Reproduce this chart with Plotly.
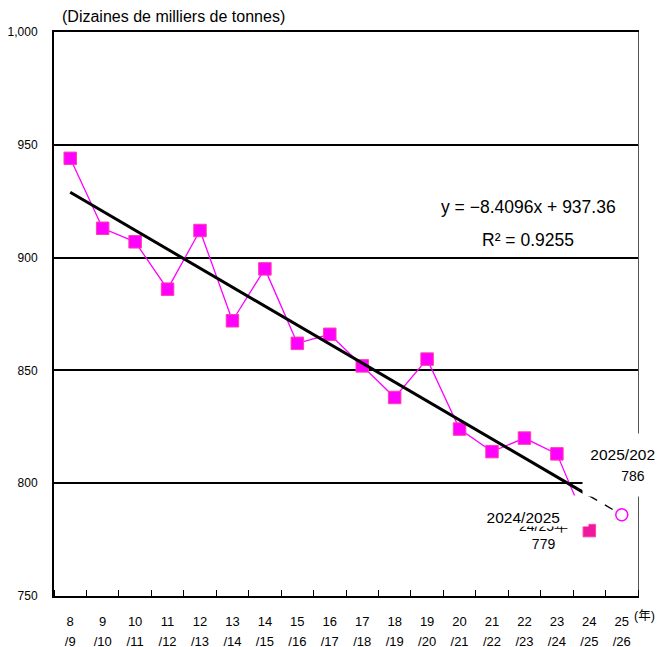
import plotly.graph_objects as go

# ---- data ----
cat_line1 = ["8", "9", "10", "11", "12", "13", "14", "15", "16", "17", "18", "19",
             "20", "21", "22", "23", "24", "25"]
cat_line2 = ["/9", "/10", "/11", "/12", "/13", "/14", "/15", "/16", "/17", "/18", "/19", "/20",
             "/21", "/22", "/23", "/24", "/25", "/26"]
values = [944, 913, 907, 886, 912, 872, 895, 862, 866, 852, 838, 855, 824, 814, 820, 813, 779]
forecast_value = 786
slope = -8.4096
intercept = 937.36
r2 = 0.9255
y_ticks = [750, 800, 850, 900, 950, 1000]
y_ticktext = ["750", "800", "850", "900", "950", "1,000"]

# page offset (browser body margin)
OFF = 8
W, H = 663, 647
# reference-pixel plot box
RL, RR, RT, RB = 54, 638, 32, 596
L, T = RL - OFF, RT - OFF
R = W - (RR - OFF)
B = H - (RB - OFF)
PW, PH = W - L - R, H - T - B

def px(x):
    return (x - OFF - L) / PW

def py(y):
    return 1 - (y - OFF - T) / PH

FONT = "Liberation Sans, Arial, sans-serif"
MAG = "#FF00FF"

xs = list(range(1, len(values) + 1))
x_fc = len(values) + 1
n_cat = len(cat_line1)

fig = go.Figure()

fig.add_trace(go.Scatter(
    x=xs, y=values, mode="lines+markers",
    line=dict(color=MAG, width=1.3),
    marker=dict(symbol="square", size=12.5,
                color=[MAG] * (len(values) - 1) + ["#F0189C"],
                line=dict(color="#FF3FA8", width=1)),
    hoverinfo="skip", showlegend=False))

fig.add_trace(go.Scatter(
    x=[xs[0], xs[-1]], y=[slope * xs[0] + intercept, slope * xs[-1] + intercept],
    mode="lines", line=dict(color="black", width=3),
    hoverinfo="skip", showlegend=False))

fig.add_trace(go.Scatter(
    x=[xs[-1], x_fc - 0.1], y=[slope * xs[-1] + intercept, slope * (x_fc - 0.1) + intercept],
    mode="lines", line=dict(color="black", width=1.3, dash="dash"),
    hoverinfo="skip", showlegend=False))

fig.add_trace(go.Scatter(
    x=[x_fc], y=[forecast_value], mode="markers",
    marker=dict(symbol="circle-open", size=12, color=MAG, line=dict(color=MAG, width=1.5)),
    hoverinfo="skip", showlegend=False))

annotations = [
    dict(text="(Dizaines de milliers de tonnes)", xref="paper", yref="paper",
         x=px(60), y=py(17), xanchor="left", yanchor="middle", showarrow=False,
         font=dict(family=FONT, size=16, color="black")),
    dict(text="(年)", xref="paper", yref="paper", x=px(632), y=py(616),
         xanchor="left", yanchor="middle", showarrow=False,
         font=dict(family="Liberation Sans, Noto Sans CJK JP", size=12.5, color="black")),
    dict(text=f"y = −{abs(slope):.4f}x + {intercept:.2f}", xref="paper", yref="paper",
         x=px(528), y=py(207), xanchor="center", yanchor="middle", showarrow=False,
         font=dict(family=FONT, size=17.5, color="black")),
    dict(text=f"R² = {r2:.4f}", xref="paper", yref="paper",
         x=px(528), y=py(240), xanchor="center", yanchor="middle", showarrow=False,
         font=dict(family=FONT, size=17.5, color="black")),
    dict(text=f"24/25年<br>{values[-1]}", xref="paper", yref="paper",
         x=px(543), y=py(535), xanchor="center", yanchor="middle", showarrow=False,
         font=dict(family=FONT, size=14, color="black")),
    dict(text="&nbsp;&nbsp;2024/2025", xref="paper", yref="paper",
         x=px(533), y=py(511), xanchor="center", yanchor="middle", showarrow=False,
         width=110, height=30, align="left", valign="bottom", borderpad=0, bgcolor="white",
         font=dict(family=FONT, size=15.5, color="black")),
    dict(text=f"2025/2026<br><span style='font-size:14px'>&nbsp;&nbsp;&nbsp;{forecast_value}</span>",
         xref="paper", yref="paper",
         x=px(627), y=py(465), xanchor="center", yanchor="middle", showarrow=False,
         width=88, height=62, borderpad=0, bgcolor="white",
         font=dict(family=FONT, size=15.5, color="black")),
]

fig.update_layout(
    width=W, height=H,
    margin=dict(l=L, r=R, t=T, b=B, pad=0),
    paper_bgcolor="white", plot_bgcolor="white",
    annotations=annotations,
    xaxis=dict(
        range=[0.5, n_cat + 0.5], automargin=False,
        tickmode="array", tickvals=list(range(1, n_cat + 1)), ticktext=cat_line1,
        ticks="", showgrid=False, zeroline=False,
        showline=True, linecolor="black", linewidth=2,
        minor=dict(ticks="inside", tick0=0.5, dtick=1, ticklen=6, tickcolor="black",
                   tickwidth=1, showgrid=False),
        tickfont=dict(family=FONT, size=13, color="black"),
        ticklabelstandoff=12,
    ),
    xaxis3=dict(
        overlaying="x", anchor="y", side="bottom", matches="x", automargin=False,
        tickmode="array", tickvals=list(range(1, n_cat + 1)), ticktext=cat_line2,
        ticks="", showgrid=False, zeroline=False, showline=False,
        tickfont=dict(family=FONT, size=13, color="black"),
        ticklabelstandoff=36,
    ),
    xaxis2=dict(overlaying="x", side="top", anchor="y", showline=True, linecolor="black",
                linewidth=2, automargin=False,
                showticklabels=False, ticks="", showgrid=False, zeroline=False, range=[0, 1]),
    yaxis=dict(
        range=[750, 1000], automargin=False,
        tickmode="array", tickvals=y_ticks, ticktext=y_ticktext,
        ticks="", showgrid=True, gridcolor="black", gridwidth=1.5, zeroline=False,
        showline=True, linecolor="black", linewidth=2,
        tickfont=dict(family=FONT, size=12, color="black"),
        ticklabelstandoff=12,
    ),
    yaxis2=dict(overlaying="y", side="right", anchor="x", showline=True, linecolor="#555555",
                linewidth=1, automargin=False,
                showticklabels=False, ticks="", showgrid=False, zeroline=False, range=[0, 1]),
)

fig.add_trace(go.Scatter(x=[None], y=[None], xaxis="x2", yaxis="y2",
                         showlegend=False, hoverinfo="skip"))
fig.add_trace(go.Scatter(x=[1], y=[None], xaxis="x3", yaxis="y",
                         showlegend=False, hoverinfo="skip"))

fig.write_html("out.html")
